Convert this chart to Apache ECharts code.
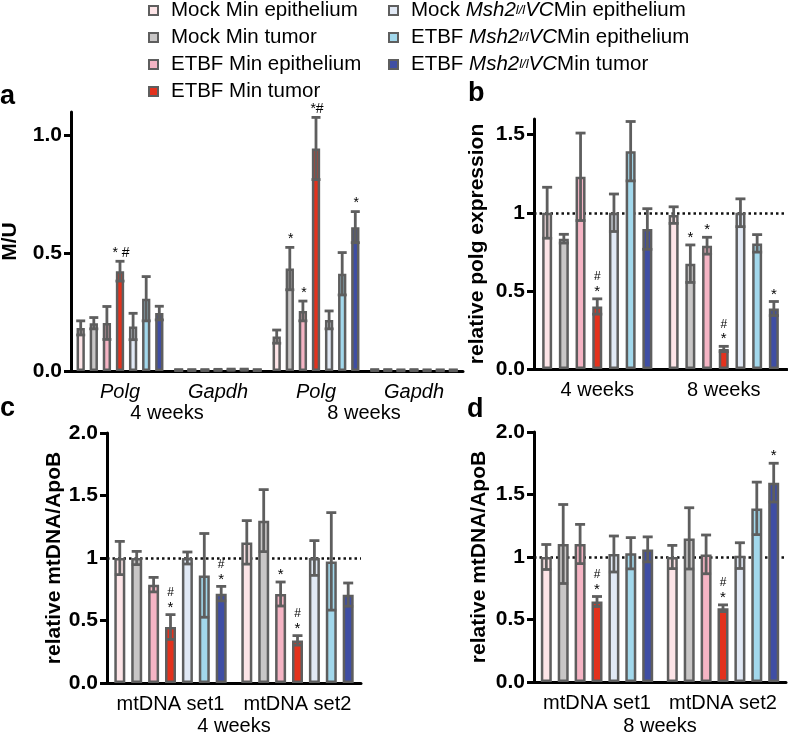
<!DOCTYPE html>
<html>
<head>
<meta charset="utf-8">
<script src="https://cdn.jsdelivr.net/npm/echarts@6/dist/echarts.min.js"></script>
<style>html,body{margin:0;padding:0;background:#fff}#c{width:788px;height:735px}</style>
</head>
<body>
<div id="c"></div>
<script>
// ---------------- data ----------------
const seriesNames = [
  'Mock Min epithelium', 'Mock Min tumor', 'ETBF Min epithelium', 'ETBF Min tumor',
  'Mock Msh2l/lVCMin epithelium', 'ETBF Msh2l/lVCMin epithelium', 'ETBF Msh2l/lVCMin tumor'
];

// panel a
const aCategories = ['Polg', 'Gapdh', 'Polg', 'Gapdh'];
const aGroups = ['4 weeks', '8 weeks'];
const aTicks = [0, 0.5, 1];
const aMeans = [
  [0.183, 0.004, 0.146, 0.004],
  [0.203, 0.004, 0.435, 0.004],
  [0.204, 0.004, 0.255, 0.003],
  [0.424, 0.005, 0.945, 0.004],
  [0.189, 0.006, 0.217, 0.003],
  [0.307, 0.006, 0.413, 0.003],
  [0.246, 0.004, 0.611, 0.003]
];
const aErrors = [
  [0.030, 0.002, 0.028, 0.002],
  [0.024, 0.002, 0.090, 0.002],
  [0.070, 0.002, 0.042, 0.002],
  [0.042, 0.002, 0.132, 0.002],
  [0.056, 0.002, 0.038, 0.002],
  [0.094, 0.002, 0.090, 0.002],
  [0.029, 0.002, 0.066, 0.002]
];
const aMarks = [
  ['', '', '', ''], ['', '', '*', ''], ['', '', '*', ''], ['* #', '', '*#', ''],
  ['', '', '', ''], ['', '', '', ''], ['', '', '*', '']
];

// panel b
const bCategories = ['4 weeks', '8 weeks'];
const bTicks = [0, 0.5, 1, 1.5];
const bMeans = [
  [1.000, 0.985], [0.834, 0.674], [1.230, 0.789], [0.400, 0.128],
  [1.000, 1.000], [1.394, 0.804], [0.896, 0.387]
];
const bErrors = [
  [0.163, 0.053], [0.028, 0.120], [0.280, 0.054], [0.049, 0.017],
  [0.120, 0.089], [0.190, 0.056], [0.130, 0.045]
];
const bMarks = [
  ['', ''], ['', '*'], ['', '*'], ['#*', '#*'], ['', ''], ['', ''], ['', '*']
];

// panel c
const cCategories = ['mtDNA set1', 'mtDNA set2'];
const cGroup = '4 weeks';
const cTicks = [0, 0.5, 1, 1.5, 2];
const cMeans = [
  [1.000, 1.125], [1.000, 1.299], [0.787, 0.712], [0.448, 0.341],
  [1.000, 1.000], [0.861, 0.973], [0.715, 0.707]
];
const cErrors = [
  [0.133, 0.174], [0.053, 0.248], [0.058, 0.096], [0.099, 0.038],
  [0.048, 0.139], [0.335, 0.390], [0.058, 0.093]
];
const cMarks = [
  ['', ''], ['', ''], ['', '*'], ['#*', '#*'], ['', ''], ['', ''], ['#*', '']
];

// panel d
const dCategories = ['mtDNA set1', 'mtDNA set2'];
const dGroup = '8 weeks';
const dTicks = [0, 0.5, 1, 1.5, 2];
const dMeans = [
  [1.000, 1.000], [1.104, 1.149], [1.104, 1.021], [0.644, 0.590],
  [1.024, 1.011], [1.030, 1.389], [1.061, 1.595]
];
const dErrors = [
  [0.100, 0.093], [0.316, 0.245], [0.157, 0.155], [0.040, 0.027],
  [0.144, 0.103], [0.125, 0.210], [0.100, 0.155]
];
const dMarks = [
  ['', ''], ['', ''], ['', ''], ['#*', '#*'], ['', ''], ['', ''], ['', '*']
];

// ---------------- styles ----------------
const FONT = '"Liberation Sans", Arial, Helvetica, sans-serif';
const seriesColors = ['#fde4e7', '#c8c6c6', '#f5b4c4', '#e3321d', '#e1e9f5', '#a2d8ec', '#3f4ea4'];
const EDGE = '#5e5e5e';

const panels = [
  { cats: aCategories, means: aMeans, errs: aErrors, marks: aMarks, ticks: aTicks, max: 1.1,
    grid: { left: 71, top: 112, width: 392, height: 259 }, barWidth: 8.3, pitch: 13.1, cap: 4.5,
    yName: 'M/U', nameGap: 50, italic: true, ref: false, fmt: v => v.toFixed(1), inline: true },
  { cats: bCategories, means: bMeans, errs: bErrors, marks: bMarks, ticks: bTicks, max: 1.6,
    grid: { left: 534, top: 119, width: 253, height: 250 }, barWidth: 10, pitch: 16.7, cap: 5,
    yName: 'relative polg expression', nameGap: 46, italic: false, ref: true,
    fmt: v => (v === 1 ? '1' : v.toFixed(1)), inline: false },
  { cats: cCategories, means: cMeans, errs: cErrors, marks: cMarks, ticks: cTicks, max: 2,
    grid: { left: 107, top: 433, width: 254, height: 250 }, barWidth: 11, pitch: 16.9, cap: 5,
    yName: 'relative mtDNA/ApoB', nameGap: 42, italic: false, ref: true,
    fmt: v => (v === 1 ? '1' : v.toFixed(1)), inline: false },
  { cats: dCategories, means: dMeans, errs: dErrors, marks: dMarks, ticks: dTicks, max: 2,
    grid: { left: 534, top: 432, width: 252, height: 250 }, barWidth: 11, pitch: 16.9, cap: 5,
    yName: 'relative mtDNA/ApoB', nameGap: 44, italic: false, ref: true,
    fmt: v => (v === 1 ? '1' : v.toFixed(1)), inline: false }
];

const grids = [], xAxes = [], yAxes = [], series = [];

panels.forEach((p, pi) => {
  grids.push(Object.assign({ containLabel: false, outerBoundsMode: 'none' }, p.grid));
  xAxes.push({
    type: 'category', gridIndex: pi, data: p.cats,
    axisLine: { lineStyle: { color: '#000', width: 3 } },
    axisTick: { alignWithLabel: true, length: 7, lineStyle: { color: '#000', width: 3 } },
    axisLabel: { color: '#000', fontFamily: FONT, fontSize: 20, margin: 11,
                 fontStyle: p.italic ? 'italic' : 'normal', interval: 0 },
    splitLine: { show: false }
  });
  yAxes.push({
    type: 'value', gridIndex: pi, min: 0, max: p.max,
    name: p.yName, nameLocation: 'middle', nameGap: p.nameGap, nameRotate: 90,
    nameTextStyle: { color: '#000', fontFamily: FONT, fontSize: 21, fontWeight: 'bold' },
    axisLine: { show: true, lineStyle: { color: '#000', width: 3 } },
    axisTick: { show: true, length: 7, customValues: p.ticks, lineStyle: { color: '#000', width: 3 } },
    axisLabel: { color: '#000', fontFamily: FONT, fontSize: 21, fontWeight: 'bold', margin: 9,
                 customValues: p.ticks, formatter: p.fmt },
    splitLine: { show: false }
  });
  const gapPct = ((p.pitch / p.barWidth - 1) * 100).toFixed(1) + '%';
  p.means.forEach((row, s) => {
    const ser = {
      type: 'bar', name: seriesNames[s], xAxisIndex: pi, yAxisIndex: pi,
      data: row, barWidth: p.barWidth, barGap: gapPct,
      itemStyle: { color: seriesColors[s], borderColor: EDGE, borderWidth: 2.5 },
      emphasis: { disabled: true }, z: 2
    };
    if (s === 0 && p.ref) {
      ser.markLine = {
        silent: true, symbol: ['none', 'none'], z: 1, animation: false,
        label: { show: false },
        lineStyle: { type: [2.5, 3], color: '#111', width: 2.5 },
        data: [{ yAxis: 1 }]
      };
    }
    series.push(ser);
  });
  // error bars + significance marks
  const errData = [], markList = [];
  p.means.forEach((row, s) => row.forEach((m, c) => {
    errData.push([c, s, m, p.errs[s][c]]);
    markList.push(p.marks[s][c]);
  }));
  series.push({
    type: 'custom', xAxisIndex: pi, yAxisIndex: pi, z: 5, silent: true,
    data: errData,
    renderItem: function (params, api) {
      const c = api.value(0), s = api.value(1), m = api.value(2), e = api.value(3);
      const base = api.coord([c, m]);
      const x = base[0] + (s - 3) * p.pitch;
      const yT = api.coord([c, m + e])[1];
      const yB = api.coord([c, Math.max(0, m - e)])[1];
      const st = { stroke: EDGE, lineWidth: 2.8 };
      const kids = [
        { type: 'line', shape: { x1: x, y1: yT, x2: x, y2: yB }, style: st },
        { type: 'line', shape: { x1: x - p.cap, y1: yT, x2: x + p.cap, y2: yT }, style: st },
        { type: 'line', shape: { x1: x - p.cap, y1: yB, x2: x + p.cap, y2: yB }, style: st }
      ];
      const mk = markList[params.dataIndex];
      if (mk) {
        if (p.inline) {
          kids.push({ type: 'text', style: { text: mk, x: x + 1, y: yT - 8, align: 'center', verticalAlign: 'middle',
            font: '14px ' + FONT, fill: '#000' } });
        } else if (mk.length === 2) {
          kids.push({ type: 'text', style: { text: '#', x: x, y: yT - 22, align: 'center', verticalAlign: 'middle',
            font: '12px ' + FONT, fill: '#000' } });
          kids.push({ type: 'text', style: { text: '*', x: x, y: yT - 7, align: 'center', verticalAlign: 'middle',
            font: '15px ' + FONT, fill: '#000' } });
        } else {
          kids.push({ type: 'text', style: { text: '*', x: x, y: yT - 7, align: 'center', verticalAlign: 'middle',
            font: '15px ' + FONT, fill: '#000' } });
        }
      }
      return { type: 'group', children: kids };
    }
  });
});

function legendFmt(name) {
  const m = name.match(/^(\w+) Msh2l\/lVC(Min .*)$/);
  if (m) return '{g|}{n|' + m[1] + ' }{i|Msh2}{s|l/l}{i|VC}{n|' + m[2] + '}';
  return '{g|}{n|' + name + '}';
}
const legendRich = {
  g: { width: 8 },
  n: { fontFamily: FONT, fontSize: 20.5, color: '#000', lineHeight: 20 },
  i: { fontFamily: FONT, fontSize: 20.5, color: '#000', fontStyle: 'italic', lineHeight: 20 },
  s: { fontFamily: FONT, fontSize: 13, color: '#000', fontStyle: 'italic', lineHeight: 20 }
};
function legendData(names) {
  return names.map(n => ({ name: n, itemStyle: { borderColor: EDGE, borderWidth: 2 } }));
}

const graphics = [
  { type: 'text', left: 0, top: 83, style: { text: 'a', font: 'bold 27px ' + FONT, fill: '#000' } },
  { type: 'text', left: 468, top: 80, style: { text: 'b', font: 'bold 27px ' + FONT, fill: '#000' } },
  { type: 'text', left: 0, top: 395, style: { text: 'c', font: 'bold 27px ' + FONT, fill: '#000' } },
  { type: 'text', left: 467, top: 396, style: { text: 'd', font: 'bold 27px ' + FONT, fill: '#000' } },
  { type: 'text', x: 167, y: 413, style: { text: aGroups[0], font: '20px ' + FONT, fill: '#000', align: 'center', verticalAlign: 'middle' } },
  { type: 'text', x: 364, y: 413, style: { text: aGroups[1], font: '20px ' + FONT, fill: '#000', align: 'center', verticalAlign: 'middle' } },
  { type: 'text', x: 234, y: 726, style: { text: cGroup, font: '20px ' + FONT, fill: '#000', align: 'center', verticalAlign: 'middle' } },
  { type: 'text', x: 660, y: 726, style: { text: dGroup, font: '20px ' + FONT, fill: '#000', align: 'center', verticalAlign: 'middle' } }
];

const option = {
  animation: false,
  backgroundColor: '#fff',
  textStyle: { fontFamily: FONT },
  legend: [
    { orient: 'vertical', left: 148, top: 0, padding: 0, itemGap: 6, itemWidth: 9, itemHeight: 9,
      icon: 'rect', data: legendData(seriesNames.slice(0, 4)), formatter: legendFmt,
      textStyle: { rich: legendRich }, selectedMode: false },
    { orient: 'vertical', left: 388, top: 0, padding: 0, itemGap: 6, itemWidth: 9, itemHeight: 9,
      icon: 'rect', data: legendData(seriesNames.slice(4)), formatter: legendFmt,
      textStyle: { rich: legendRich }, selectedMode: false }
  ],
  grid: grids, xAxis: xAxes, yAxis: yAxes, series: series, graphic: graphics
};

const chart = echarts.init(document.getElementById('c'), null, { renderer: 'canvas' });
chart.setOption(option);
</script>
</body>
</html>
